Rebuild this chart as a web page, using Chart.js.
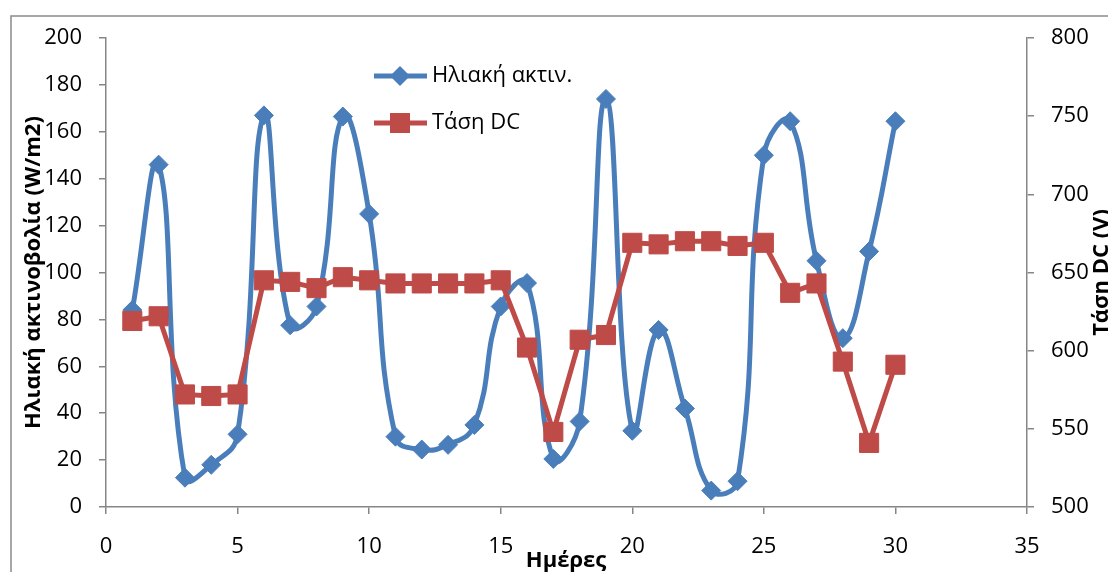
<!DOCTYPE html>
<html>
<head>
<meta charset="utf-8">
<script src="https://cdn.jsdelivr.net/npm/chart.js@4.4.1/dist/chart.umd.min.js"></script>
<style>
  html, body { margin: 0; padding: 0; background: #fff; overflow: hidden; }
  #wrap { position: absolute; left: 0; top: 0; width: 1108px; height: 600px; }
</style>
</head>
<body>
<div id="wrap"><canvas id="myChart" width="1108" height="600"></canvas></div>
<script>
// μέρες μέτρησης
var days = [1, 2, 3, 4, 5, 6, 7, 8, 9, 10, 11, 12, 13, 14, 15,
            16, 17, 18, 19, 20, 21, 22, 23, 24, 25, 26, 27, 28, 29, 30];
// ηλιακή ακτινοβολία, W/m2 (αριστερός άξονας)
var radiation = [84, 146, 12.5, 18, 31, 167, 77.5, 85.5, 166.5, 125,
                 30, 24.5, 26.5, 35, 85.5, 95.5, 20.5, 36.5, 174, 32.5,
                 75.5, 42, 7, 11, 150, 164.5, 105, 72, 109, 164.5];
// τάση DC, V (δεξιός άξονας)
var voltage = [619, 622, 572, 571, 572, 645, 644, 640, 647, 645,
               643, 643, 643, 643, 645, 602, 548, 607, 610, 669,
               668, 670, 670, 667, 669, 637, 643, 593, 541, 591];

var names = ['Ηλιακή ακτιν.', 'Τάση DC'];
var leftTitle = 'Ηλιακή ακτινοβολία (W/m2)';
var rightTitle = 'Τάση DC (V)';
var xTitle = 'Ημέρες';

var blue = '#4a7ebb';
var red = '#be4b48';
var axisColor = '#868686';
var fontFam = '"Open Sans", "DejaVu Sans", sans-serif';

function marker(c, type, x, y, color) {
  c.fillStyle = color;
  c.beginPath();
  if (type == 'rectRot') {
    var r = 10;
    c.moveTo(x - r, y); c.lineTo(x, y - r); c.lineTo(x + r, y); c.lineTo(x, y + r);
  } else {
    var s = 10;
    c.rect(x - s, y - s, 2 * s, 2 * s);
  }
  c.closePath();
  c.fill();
}

// πλαίσιο, τίτλοι αξόνων και υπόμνημα μέσα στο γράφημα
var extras = {
  id: 'extras',
  beforeDraw: function(chart) {
    var c = chart.ctx;
    c.save();
    c.fillStyle = '#fff';
    c.fillRect(0, 0, chart.width, chart.height);
    c.strokeStyle = '#8a8a8a';
    c.lineWidth = 1.5;
    c.strokeRect(11, 16, 1300, 800);
    c.restore();
  },
  afterDraw: function(chart) {
    var c = chart.ctx;
    var a = chart.chartArea;
    c.save();
    c.fillStyle = '#000';
    c.font = 'bold 22px ' + fontFam;
    c.textAlign = 'center';
    c.textBaseline = 'alphabetic';
    c.fillText(xTitle, 566, 567);
    c.translate(1108, (a.top + a.bottom) / 2);
    c.rotate(-Math.PI / 2);
    c.fillText(rightTitle, 0, 0);
    c.restore();

    var rows = [[76, blue, 'rectRot'], [123, red, 'rect']];
    c.save();
    c.font = '22px ' + fontFam;
    c.textAlign = 'left';
    c.textBaseline = 'middle';
    rows.forEach(function(row, i) {
      c.strokeStyle = row[1];
      c.lineWidth = 5;
      c.beginPath();
      c.moveTo(374, row[0]);
      c.lineTo(427, row[0]);
      c.stroke();
      marker(c, row[2], 400, row[0], row[1]);
      c.fillStyle = '#000';
      c.fillText(names[i], 432, row[0]);
    });
    c.restore();
  }
};

var tickFont = { family: fontFam, size: 22 };
var gridOpts = { drawOnChartArea: false, drawTicks: true, tickLength: 7, color: axisColor, lineWidth: 1.5 };
var borderOpts = { color: axisColor, width: 1.5 };

var ctx = document.getElementById('myChart').getContext('2d');
var chart = new Chart(ctx, {
  type: 'line',
  data: {
    datasets: [{
      label: names[0],
      data: days.map(function(d, i) { return { x: d, y: radiation[i] }; }),
      yAxisID: 'y',
      borderColor: blue,
      backgroundColor: blue,
      borderWidth: 5,
      tension: 0.45,
      pointStyle: 'rectRot',
      pointRadius: 9.5,
      pointBorderWidth: 1,
      order: 1
    }, {
      label: names[1],
      data: days.map(function(d, i) { return { x: d, y: voltage[i] }; }),
      yAxisID: 'y1',
      borderColor: red,
      backgroundColor: red,
      borderWidth: 5,
      tension: 0,
      pointStyle: 'rect',
      pointRadius: 13.5,
      pointBorderWidth: 1,
      order: 0
    }]
  },
  options: {
    responsive: false,
    animation: false,
    devicePixelRatio: 1,
    layout: { padding: { top: 38, left: 0, right: 0, bottom: 0 } },
    plugins: { legend: { display: false }, tooltip: { enabled: false } },
    scales: {
      x: {
        type: 'linear', min: 0, max: 35,
        ticks: { stepSize: 5, color: '#000', font: tickFont, padding: 20, maxRotation: 0 },
        grid: gridOpts,
        border: borderOpts,
        afterFit: function(s) { s.height = 93; }
      },
      y: {
        position: 'left', min: 0, max: 200,
        ticks: { stepSize: 20, color: '#000', font: tickFont, padding: 17 },
        grid: gridOpts,
        border: borderOpts,
        title: {
          display: true, text: leftTitle, color: '#000',
          font: { family: fontFam, size: 22, weight: 'bold' },
          padding: { top: 21, bottom: 0 }
        },
        afterFit: function(s) { s.width = 106; }
      },
      y1: {
        position: 'right', min: 500, max: 800,
        ticks: { stepSize: 50, color: '#000', font: tickFont, padding: 17 },
        grid: gridOpts,
        border: borderOpts,
        afterFit: function(s) { s.width = 81; }
      }
    }
  },
  plugins: [extras]
});
</script>
</body>
</html>
